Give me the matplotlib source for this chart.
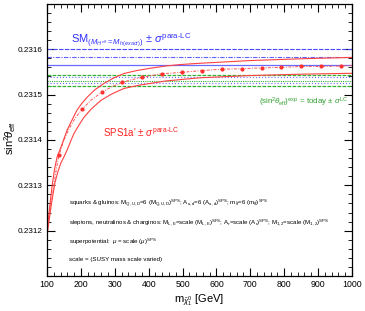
import matplotlib
matplotlib.use("Agg")
import matplotlib.pyplot as plt
import numpy as np

plt.rcParams['font.family'] = ['Liberation Sans', 'DejaVu Sans']
plt.rcParams['mathtext.fontset'] = 'custom'
plt.rcParams['mathtext.rm'] = 'Liberation Sans'
plt.rcParams['mathtext.it'] = 'Liberation Sans:italic'
plt.rcParams['mathtext.sf'] = 'Liberation Sans'

# ---- data ----
upper_m = [100, 108, 115, 122, 129.5, 141, 159, 175, 188, 203, 218, 240, 268, 295, 327, 365,
           404, 450, 492, 550, 600, 699, 850, 1000]
upper_v = [0.231198, 0.231255, 0.231300, 0.231335, 0.2313623, 0.2313842, 0.2314215, 0.231446,
           0.2314654, 0.231481, 0.2314939, 0.231510, 0.2315246, 0.231536, 0.2315465, 0.231553,
           0.231558, 0.231563, 0.2315662, 0.231569, 0.231571, 0.231575, 0.231579, 0.231582]

mid_m = [100, 110, 118, 126, 135, 150, 165, 183, 203, 230, 262, 290, 321, 350, 380, 439, 498,
         557, 616, 675, 734, 790, 849, 908, 967, 1000]
mid_v = [0.231194, 0.231250, 0.231290, 0.231330, 0.2313667, 0.231400, 0.231425, 0.231448,
         0.2314675, 0.231488, 0.231505, 0.231517, 0.2315267, 0.231533, 0.231538, 0.231546,
         0.231549, 0.231553, 0.231556, 0.231557, 0.231559, 0.231560, 0.231562, 0.231562,
         0.231563, 0.231564]
marker_m = [135, 203, 262, 321, 380, 439, 498, 557, 616, 675, 734, 790, 849, 908, 967]
marker_v = [0.2313667, 0.2314675, 0.231505, 0.2315267, 0.231538, 0.231546, 0.231549,
            0.231553, 0.231556, 0.231557, 0.231559, 0.231560, 0.231562, 0.231562, 0.231563]

lower_m = [100, 112, 123, 132, 140, 150, 159, 170, 180, 195, 209, 230, 259, 290, 327, 374,
           450, 550, 699, 850, 1000]
lower_v = [0.231190, 0.231255, 0.2313053, 0.231330, 0.231348, 0.231363, 0.2313776, 0.231398,
           0.231415, 0.231434, 0.231450, 0.231468, 0.2314873, 0.231501, 0.2315136, 0.231521,
           0.231530, 0.231537, 0.231542, 0.231545, 0.231547]

sm_lines = [0.2316013, 0.2315838, 0.2315662]          # SM band
exp_green = [0.231544, 0.231531, 0.231518]            # today ± sigma LC
exp_blue = [0.231538, 0.231525]

xlim = (100, 1000)
ylim = (0.2311, 0.2317)
yticks = [0.2312, 0.2313, 0.2314, 0.2315, 0.2316]
xticks = [100, 200, 300, 400, 500, 600, 700, 800, 900, 1000]

fig = plt.figure(figsize=(3.65, 3.11), dpi=100)
ax = fig.add_axes([0.129, 0.1125, 0.835, 0.875])

# SM band (blue)
ax.axhline(sm_lines[0], color='#4848ff', lw=0.8, ls=(0, (4, 1.2)))
ax.axhline(sm_lines[1], color='#6060ff', lw=0.8, ls=(0, (4, 1.2, 1, 1.2)))
ax.axhline(sm_lines[2], color='#6a6aff', lw=0.9, ls='-')

# experimental band (green)
ax.axhline(exp_green[0], color='#30b030', lw=0.9, ls=(0, (3, 1)))
ax.axhline(exp_green[1], color='#30b030', lw=0.8, ls=(0, (1, 1)))
ax.axhline(exp_green[2], color='#30b030', lw=0.9, ls=(0, (3, 1)))
for v in exp_blue:
    ax.axhline(v, color='#5050ff', lw=0.8, ls=(0, (0.8, 2)))

# SPS1a' curves (red)
ax.plot(upper_m, upper_v, color='#ff4040', lw=0.8)
ax.plot(lower_m, lower_v, color='#ff4040', lw=0.8)
ax.plot(mid_m, mid_v, color='#ff5050', lw=0.7, ls=(0, (3, 1.5, 1, 1.5)))
ax.plot(marker_m, marker_v, ls='none', marker='o', ms=2.0, color='#ff3030', mec='#ff3030')

ax.set_xlim(*xlim)
ax.set_ylim(*ylim)
ax.set_xticks(xticks)
ax.set_yticks(yticks)
ax.set_yticklabels([f'{v:.4f}' for v in yticks])
ax.xaxis.set_minor_locator(matplotlib.ticker.MultipleLocator(20))
ax.yaxis.set_minor_locator(matplotlib.ticker.MultipleLocator(0.00002))
ax.tick_params(which='both', direction='in', top=True, right=True, labelsize=5.9, pad=3)
ax.tick_params(axis='x', labelsize=6.3)
ax.tick_params(which='major', length=6, width=0.8)
ax.tick_params(which='minor', length=3, width=0.6)
for s in ax.spines.values():
    s.set_linewidth(0.9)

fig.text(10 / 365, 1 - 138 / 311, r'sin$^2\!\theta_{\rm eff}$', rotation=90,
         ha='center', va='center', fontsize=8)
ax.set_xlabel(r'm$_{\tilde{\chi}_1^0}$ [GeV]', fontsize=8, labelpad=2)

# labels
ax.text(0.077, 0.855, r'SM$_{(M_{H^{eff}}=M_{h(exact)})}$ $\pm$ $\sigma^{\rm para\text{-}LC}$',
        transform=ax.transAxes, color='#3030ff', fontsize=8)
ax.text(0.695, 0.63, r'(sin$^2\!\theta_{\rm eff})^{\rm exp}$ = today $\pm$ $\sigma^{\rm LC}$',
        transform=ax.transAxes, color='#30a030', fontsize=5.8)
ax.text(0.185, 0.51, r"SPS1a' $\pm$ $\sigma^{\rm para\text{-}LC}$",
        transform=ax.transAxes, color='#ff2020', fontsize=7)

small = 4.4
ax.text(0.073, 0.262,
        r'squarks & gluinos: M$_{\rm Q,U,D}$=6 (M$_{\rm Q,U,D}$)$^{\rm SPS}$; A$_{\rm u,d}$=6 (A$_{\rm u,d}$)$^{\rm SPS}$; m$_{\tilde{g}}$=6 (m$_{\tilde{g}}$)$^{\rm SPS}$',
        transform=ax.transAxes, fontsize=small)
ax.text(0.073, 0.19,
        r'sleptons, neutralinos & charginos: M$_{\rm L,E}$=scale (M$_{\rm L,E}$)$^{\rm SPS}$; A$_\tau$=scale (A$_\tau$)$^{\rm SPS}$; M$_{\rm 1,2}$=scale (M$_{\rm 1,2}$)$^{\rm SPS}$',
        transform=ax.transAxes, fontsize=small)
ax.text(0.073, 0.12, r'superpotential:  $\mu$ = scale ($\mu$)$^{\rm SPS}$',
        transform=ax.transAxes, fontsize=small)
ax.text(0.073, 0.055, r'scale = (SUSY mass scale varied)',
        transform=ax.transAxes, fontsize=small)

fig.savefig('out.png', dpi=100)
